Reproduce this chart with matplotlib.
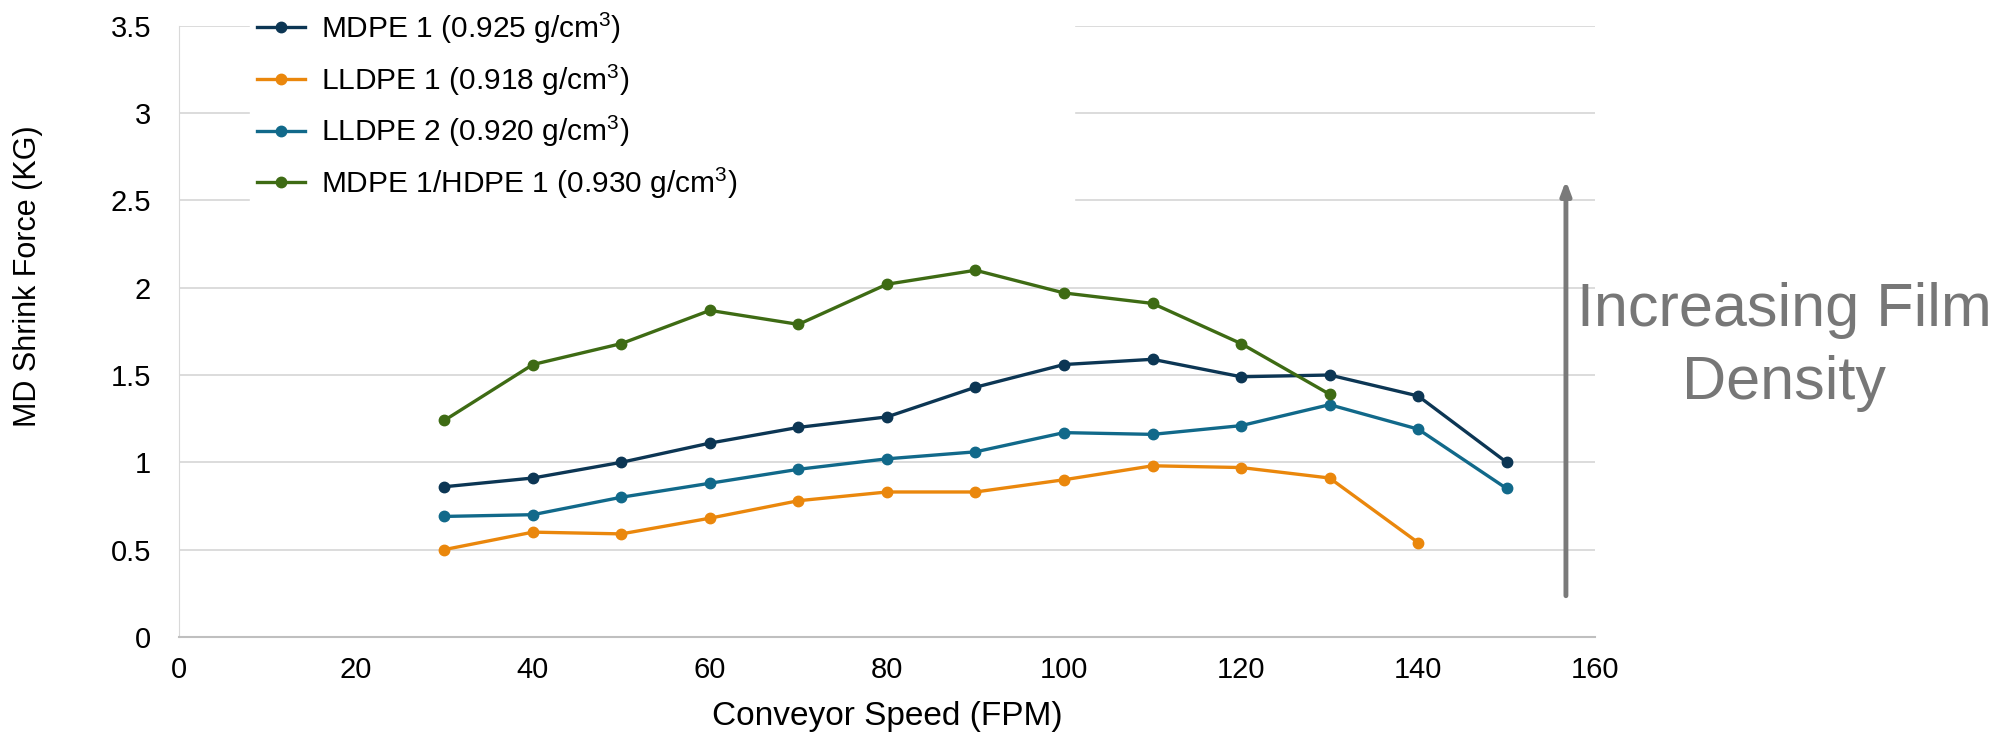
import matplotlib
matplotlib.use("Agg")
import matplotlib.pyplot as plt

plt.rcParams['font.family'] = ['Liberation Sans', 'DejaVu Sans']
plt.rcParams['mathtext.fontset'] = 'custom'
plt.rcParams['mathtext.rm'] = 'Liberation Sans'
plt.rcParams['mathtext.it'] = 'Liberation Sans'
plt.rcParams['mathtext.default'] = 'regular'

speed = [30, 40, 50, 60, 70, 80, 90, 100, 110, 120, 130, 140, 150]
mdpe1 = [0.86, 0.91, 1.00, 1.11, 1.20, 1.26, 1.43, 1.56, 1.59, 1.49, 1.50, 1.38, 1.00]
lldpe1 = [0.50, 0.60, 0.59, 0.68, 0.78, 0.83, 0.83, 0.90, 0.98, 0.97, 0.91, 0.54]
lldpe2 = [0.69, 0.70, 0.80, 0.88, 0.96, 1.02, 1.06, 1.17, 1.16, 1.21, 1.33, 1.19, 0.85]
blend = [1.24, 1.56, 1.68, 1.87, 1.79, 2.02, 2.10, 1.97, 1.91, 1.68, 1.39]

labels = ['MDPE 1 (0.925 g/cm$^3$)', 'LLDPE 1 (0.918 g/cm$^3$)',
          'LLDPE 2 (0.920 g/cm$^3$)', 'MDPE 1/HDPE 1 (0.930 g/cm$^3$)']
colors = ['#0c3654', '#ea870c', '#11698a', '#3e6b14']

fig = plt.figure(figsize=(20.09, 7.38), dpi=100)
ax = fig.add_axes([0.089, 0.137, 0.705, 0.828])

for ys, lab, c in zip([mdpe1, lldpe1, lldpe2, blend], labels, colors):
    ax.plot(speed[:len(ys)], ys, color=c, lw=2.4, marker='o', ms=7.5, label=lab)

ax.set_xlim(0, 160)
ax.set_ylim(0, 3.5)
ax.set_xticks(range(0, 161, 20))
ax.set_yticks([0, 0.5, 1, 1.5, 2, 2.5, 3, 3.5])
ax.set_yticklabels(['0', '0.5', '1', '1.5', '2', '2.5', '3', '3.5'])
ax.tick_params(labelsize=21, length=0)
ax.tick_params(axis='y', pad=20)
ax.tick_params(axis='x', pad=14)
ax.grid(axis='y', color='#d9d9d9', lw=1.3)
ax.set_axisbelow(True)
for s in ['top', 'right']:
    ax.spines[s].set_visible(False)
ax.spines['left'].set_color('#d9d9d9')
ax.spines['bottom'].set_color('#bfbfbf')
ax.spines['bottom'].set_linewidth(1.5)

ax.set_xlabel('Conveyor Speed (FPM)', fontsize=24, labelpad=12)
ax.set_ylabel('MD Shrink Force (KG)', fontsize=22)
ax.yaxis.set_label_coords(-0.096, 0.59)

leg = ax.legend(loc='upper left', bbox_to_anchor=(0.05, 0.707, 0.582, 0.33),
                mode='expand', fontsize=21.5, frameon=True, fancybox=False,
                edgecolor='white', framealpha=1, handlelength=1.6,
                handletextpad=0.55, labelspacing=0.55, borderpad=0.25,
                borderaxespad=0)

ax.annotate('', xy=(156.7, 2.63), xytext=(156.7, 0.22),
            arrowprops=dict(arrowstyle='-|>,head_width=0.3,head_length=0.8',
                            color='#7a7a7a', lw=3.5), annotation_clip=False)
fig.text(0.888, 0.53, 'Increasing Film\nDensity', fontsize=44, color='#777777',
         ha='center', va='center', linespacing=1.35)

fig.savefig('out.png', dpi=100)
